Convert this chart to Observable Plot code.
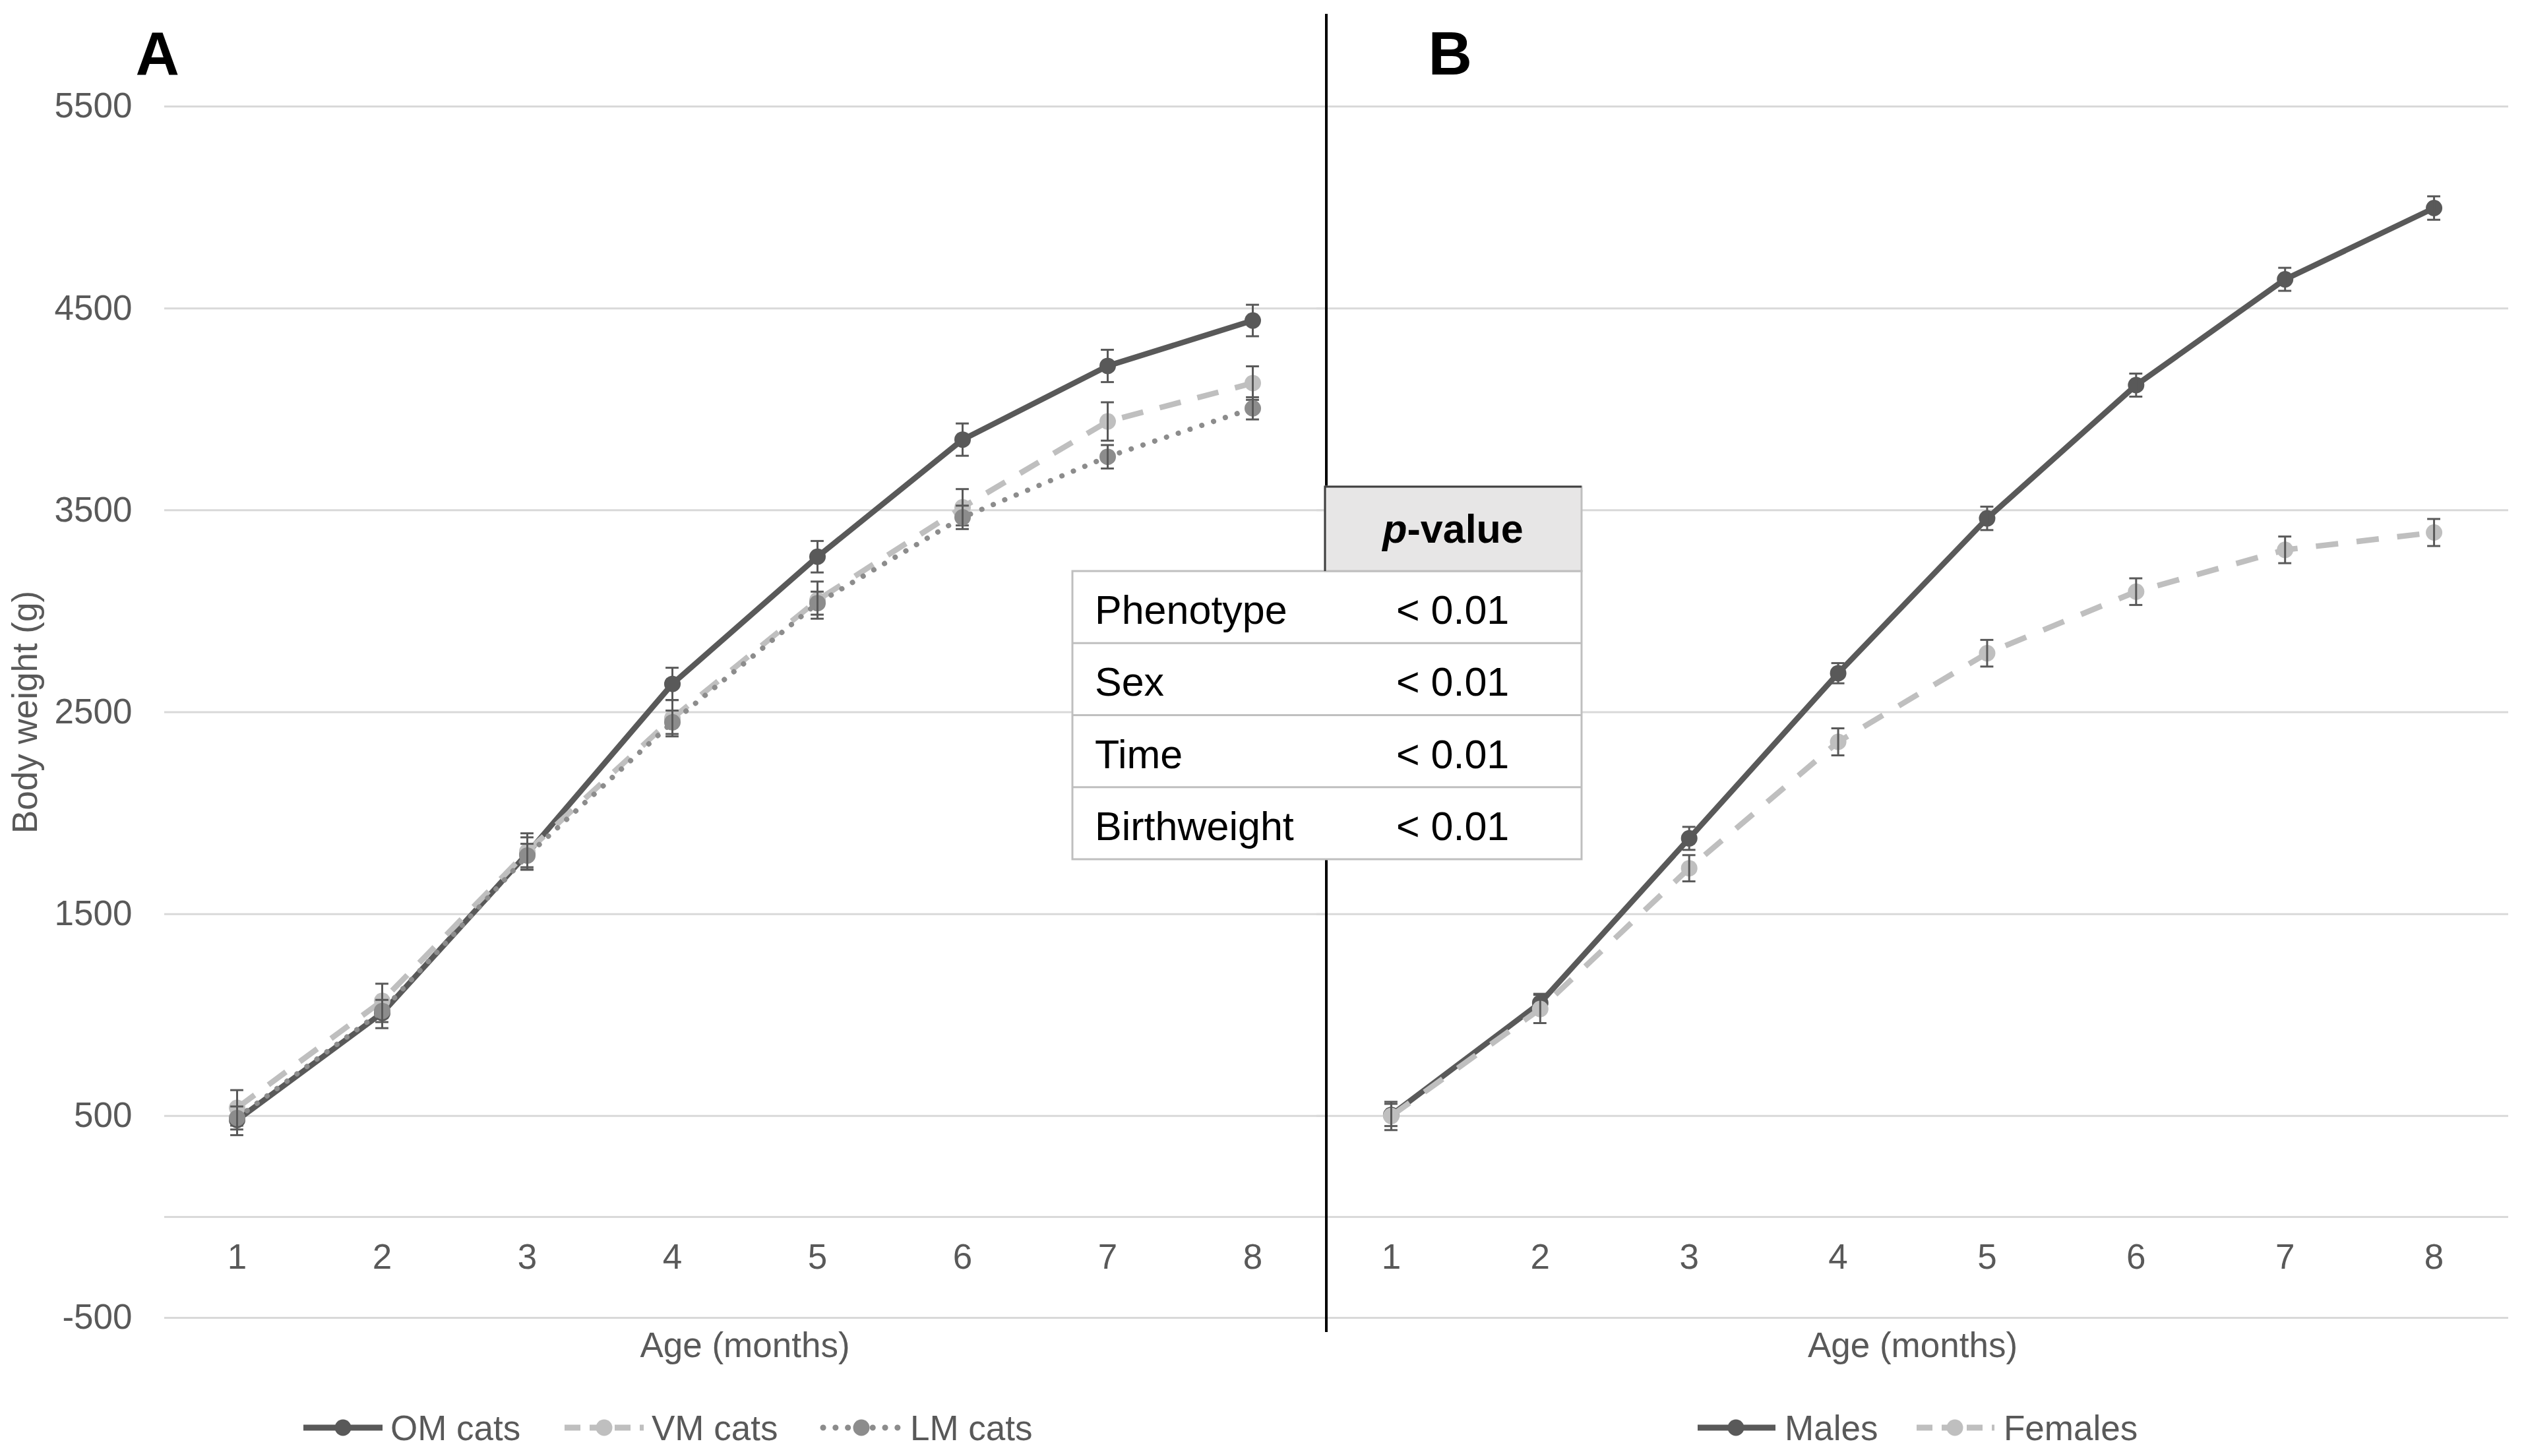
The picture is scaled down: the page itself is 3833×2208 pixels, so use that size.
<!DOCTYPE html>
<html><head><meta charset="utf-8">
<script src="https://cdn.jsdelivr.net/npm/d3@7"></script>
<script src="https://cdn.jsdelivr.net/npm/@observablehq/plot@0.6"></script>
<style>
html,body{margin:0;padding:0;background:#fff;}
#wrap{position:relative;width:3833px;height:2208px;overflow:hidden;background:#fff;font-family:"Liberation Sans",Arial,sans-serif;}
#wrap > *{position:absolute;top:0;}
</style></head><body><div id="wrap"></div>
<script>
// ---- data ----
const months = [1, 2, 3, 4, 5, 6, 7, 8];
const omCats  = [480, 1010, 1800, 2640, 3270, 3850, 4215, 4440];
const omErr   = [75, 75, 80, 80, 78, 80, 80, 78];
const vmCats  = [540, 1070, 1810, 2470, 3055, 3515, 3940, 4130];
const vmErr   = [88, 85, 90, 90, 92, 90, 95, 83];
const lmCats  = [490, 1020, 1790, 2450, 3040, 3465, 3765, 4005];
const lmErr   = [57, 55, 58, 58, 57, 58, 58, 55];
const males   = [505, 1060, 1875, 2693, 3460, 4120, 4644, 4997];
const malesErr   = [55, 45, 57, 50, 58, 57, 57, 58];
const females = [500, 1030, 1727, 2353, 2792, 3097, 3304, 3390];
const femalesErr = [70, 70, 65, 67, 66, 66, 66, 67];
const yTicks = [-500, 500, 1500, 2500, 3500, 4500, 5500];
const seriesA = ["OM cats", "VM cats", "LM cats"];
const seriesB = ["Males", "Females"];
const tableRows = ["Phenotype", "Sex", "Time", "Birthweight"];
const tableValues = ["< 0.01", "< 0.01", "< 0.01", "< 0.01"];

const FONT = '"Liberation Sans", Arial, sans-serif';
const GRAY = "#595959";
const rows = (vals, errs) => months.map((m, i) => ({m, v: vals[i], e: errs[i]}));

const styles = {
  "OM cats": {color: GRAY, marker: GRAY, dash: null, cap: "butt", w: 8.5},
  "VM cats": {color: "#bfbfbf", marker: "#bfbfbf", dash: "33 26", cap: "butt", w: 8.5},
  "LM cats": {color: "#8c8c8c", marker: "#8c8c8c", dash: "0.1 18.7", cap: "round", w: 8},
  "Males":   {color: GRAY, marker: GRAY, dash: null, cap: "butt", w: 8.5},
  "Females": {color: "#bfbfbf", marker: "#bfbfbf", dash: "34 28", cap: "butt", w: 8.5}
};

function seriesMarks(data, s, capHalf) {
  return [
    Plot.line(data, {x: "m", y: "v", stroke: s.color, strokeWidth: s.w, strokeDasharray: s.dash, strokeLinecap: s.cap, strokeLinejoin: "round"}),
    Plot.dot(data, {x: "m", y: "v", r: 12.5, fill: s.marker, stroke: null}),
    Plot.ruleX(data, {x: "m", y1: d => d.v - d.e, y2: d => d.v + d.e, stroke: GRAY, strokeWidth: 3}),
    Plot.ruleY(data, {y: d => d.v + d.e, x1: d => d.m - capHalf, x2: d => d.m + capHalf, stroke: GRAY, strokeWidth: 3}),
    Plot.ruleY(data, {y: d => d.v - d.e, x1: d => d.m - capHalf, x2: d => d.m + capHalf, stroke: GRAY, strokeWidth: 3})
  ];
}

const H = 2120;
const base = {
  height: H, marginTop: 161, marginBottom: H - 1998,
  x: {domain: [0.5, 8.5], axis: null},
  style: {background: "transparent", fontFamily: FONT, color: GRAY, overflow: "visible"}
};

const gridMarks = [
  Plot.gridY(yTicks, {stroke: "#d9d9d9", strokeOpacity: 1, strokeWidth: 3}),
  Plot.ruleY([0], {stroke: "#d9d9d9", strokeWidth: 3}),
  Plot.text(months, {x: d => d, y: 0, text: d => String(d), dy: 62, fontSize: 53, fill: GRAY}),
  Plot.text(["Age (months)"], {frameAnchor: "bottom", lineAnchor: "top", dy: 22, fontSize: 53, fill: GRAY})
];

const plotA = Plot.plot({
  ...base,
  width: 2011, marginLeft: 249, marginRight: 2,
  y: {domain: [-500, 5500]},
  marks: [
    ...gridMarks,
    Plot.axisY(yTicks, {tickSize: 0, tickPadding: 49, fontSize: 53, fill: GRAY, label: null, tickFormat: d => String(d)}),
    Plot.text(["Body weight (g)"], {frameAnchor: "left", textAnchor: "middle", rotate: -90, dx: -210, fontSize: 53, fill: GRAY}),
    Plot.text(["A"], {frameAnchor: "top-left", dx: -44, dy: -49, textAnchor: "start", lineAnchor: "bottom", fontSize: 92, fontWeight: "bold", fill: "#000"}),
    ...seriesMarks(rows(omCats, omErr), styles["OM cats"], 0.045),
    ...seriesMarks(rows(vmCats, vmErr), styles["VM cats"], 0.045),
    ...seriesMarks(rows(lmCats, lmErr), styles["LM cats"], 0.045)
  ]
});

const plotB = Plot.plot({
  ...base,
  width: 1933, marginLeft: 96, marginRight: 30,
  y: {domain: [-500, 5500], axis: null},
  marks: [
    ...gridMarks,
    Plot.text(["B"], {frameAnchor: "top-left", dx: 169, dy: -49, textAnchor: "start", lineAnchor: "bottom", fontSize: 92, fontWeight: "bold", fill: "#000"}),
    ...seriesMarks(rows(males, malesErr), styles["Males"], 0.044),
    ...seriesMarks(rows(females, femalesErr), styles["Females"], 0.044)
  ]
});

const wrap = document.getElementById("wrap");
plotA.style.left = "0px";
plotB.style.left = "1900px";
wrap.appendChild(plotA);
wrap.appendChild(plotB);

// ---- overlay: divider, p-value table, legends ----
const ov = d3.select(wrap).append("svg")
  .attr("width", 3833).attr("height", 2208)
  .style("left", "0px").style("pointer-events", "none")
  .attr("font-family", FONT);

ov.append("line").attr("x1", 2011).attr("x2", 2011).attr("y1", 21).attr("y2", 2020)
  .attr("stroke", "#000").attr("stroke-width", 4);

// table
const tL = 1626, tM = 2009, tR = 2398, tTop = 738, hBot = 866, rowH = 109.25;
ov.append("rect").attr("x", tL).attr("y", hBot).attr("width", tR - tL).attr("height", rowH * 4)
  .attr("fill", "#fff").attr("stroke", "#bfbfbf").attr("stroke-width", 3);
ov.append("rect").attr("x", tM).attr("y", tTop).attr("width", tR - tM).attr("height", hBot - tTop)
  .attr("fill", "#e7e6e6").attr("stroke", "#bfbfbf").attr("stroke-width", 3);
ov.append("path").attr("d", `M${tM},${hBot}V${tTop}H${tR}`).attr("fill", "none")
  .attr("stroke", "#404040").attr("stroke-width", 3);
for (let i = 1; i < 4; i++) {
  ov.append("line").attr("x1", tL).attr("x2", tR).attr("y1", hBot + rowH * i).attr("y2", hBot + rowH * i)
    .attr("stroke", "#bfbfbf").attr("stroke-width", 3);
}
const hdr = ov.append("text").attr("x", 2203).attr("y", 823).attr("text-anchor", "middle")
  .attr("font-size", 61).attr("font-weight", "bold").attr("fill", "#000");
hdr.append("tspan").attr("font-style", "italic").text("p");
hdr.append("tspan").text("-value");
tableRows.forEach((r, i) => {
  const yb = hBot + rowH * i + 80;
  ov.append("text").attr("x", 1660).attr("y", yb).attr("font-size", 61).attr("fill", "#000").text(r);
  ov.append("text").attr("x", 2117).attr("y", yb).attr("font-size", 61).attr("fill", "#000").text(tableValues[i]);
});

// legends
function legendItem(name, x0, x1, xm, xt) {
  const s = styles[name], y = 2165;
  ov.append("line").attr("x1", x0).attr("x2", x1).attr("y1", y).attr("y2", y)
    .attr("stroke", s.color).attr("stroke-width", 9)
    .attr("stroke-dasharray", s.dash ? (name.startsWith("LM") ? "0.1 18.7" : "24 14") : null)
    .attr("stroke-linecap", s.cap);
  ov.append("circle").attr("cx", xm).attr("cy", y).attr("r", 12.5).attr("fill", s.marker);
  ov.append("text").attr("x", xt).attr("y", y + 19).attr("font-size", 53).attr("fill", GRAY).text(name);
}
legendItem(seriesA[0], 460, 580, 520, 592);
legendItem(seriesA[1], 856, 976, 916, 988);
legendItem(seriesA[2], 1248, 1364, 1306, 1380);
legendItem(seriesB[0], 2574, 2692, 2632, 2706);
legendItem(seriesB[1], 2906, 3024, 2964, 3038);
</script></body></html>
